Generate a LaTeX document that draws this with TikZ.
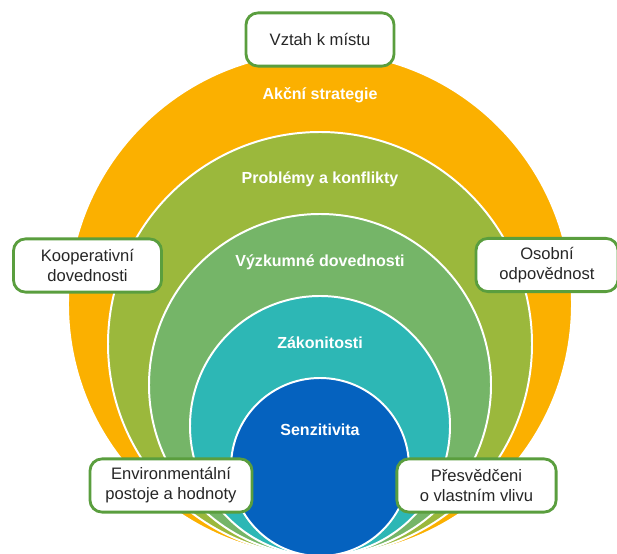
\documentclass[tikz,border=0pt]{standalone}
\usepackage{fontspec}
\setmainfont{Liberation Sans}
\usetikzlibrary{positioning}
\definecolor{akce}{HTML}{FBB000}
\definecolor{problem}{HTML}{9BB83C}
\definecolor{vyzkum}{HTML}{75B568}
\definecolor{zakon}{HTML}{2DB7B5}
\definecolor{senz}{HTML}{0562BF}
\definecolor{boxgreen}{HTML}{5A9E3E}
\tikzstyle{ring} = [draw=white, line width=1.4pt]
\tikzstyle{layer} = [text=white, anchor=base, font=\fontsize{11.4}{13}\selectfont\bfseries]
\tikzstyle{topic} = [rectangle, rounded corners=0.3cm, minimum width=3.7cm, minimum
height=1.33cm, text centered, align=center, draw=boxgreen, line width=2pt, fill=white,
text=black!85, font=\fontsize{11.8}{14.2}\selectfont]

\begin{document}
\begin{tikzpicture}[x=0.025cm, y=0.025cm]
  \useasboundingbox (0,0) rectangle (617,553);
  \clip (0,0) rectangle (617,553);

  \filldraw [ring, fill=akce] (320,249) circle (252);
  \filldraw [ring, fill=problem] (320,209) circle (212);
  \filldraw [ring, fill=vyzkum] (320,168) circle (171);
  \filldraw [ring, fill=zakon] (320,127) circle (130);
  \filldraw [ring, fill=senz] (320,86) circle (89);

  \node (akce) [layer] at (320,453) {Akční strategie};
  \node (problemy) [layer] at (320,369) {Problémy a konflikty};
  \node (vyzkum) [layer] at (320,286) {Výzkumné dovednosti};
  \node (zakon) [layer] at (320,205) {Zákonitosti};
  \node (senz) [layer] at (320,118) {Senzitivita};

  \node (misto) [topic] at (320,513.5) {Vztah k místu};
  \node (koop) [topic] at (87.5,287.5) {Kooperativní\\dovednosti};
  \node (odpov) [topic, minimum width=3.55cm] at (547,288) {Osobní\\odpovědnost};
  \node (postoje) [topic, minimum width=4.05cm] at (171,67.5) {Environmentální\\postoje a hodnoty};
  \node (vliv) [topic, minimum width=3.98cm] at (476.5,67.5) {Přesvědčeni\\o vlastním vlivu};
\end{tikzpicture}
\end{document}
